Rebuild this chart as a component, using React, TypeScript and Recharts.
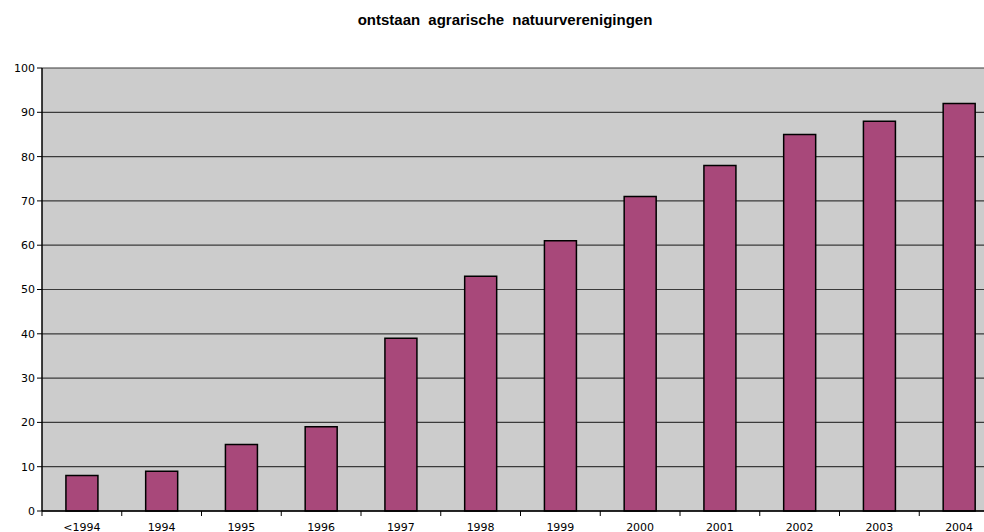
import React from "react";
import { BarChart, Bar, XAxis, YAxis, CartesianGrid } from "recharts";

const YEARS = ["<1994", "1994", "1995", "1996", "1997", "1998", "1999", "2000", "2001", "2002", "2003", "2004"];
const COUNTS = [8, 9, 15, 19, 39, 53, 61, 71, 78, 85, 88, 92];
const Y_TICKS = [0, 10, 20, 30, 40, 50, 60, 70, 80, 90, 100];

const BAR_COLOR = "#a8487a";
const PLOT_BG = "#cccccc";
const FONT = "'DejaVu Sans', Verdana, sans-serif";

const data = YEARS.map((year, i) => ({ year, count: COUNTS[i] }));

const BAND = 79.75;

// Excel style: tick marks sit between the categories, labels in the middle
function CategoryTick(props: any) {
  const { x, y, payload } = props;
  return (
    <g>
      <line x1={x - BAND / 2} y1={y - 8} x2={x - BAND / 2} y2={y - 3} stroke="#000" strokeWidth={1} />
      <text x={x} y={y + 12} textAnchor="middle" fontSize={11} fontFamily={FONT} fill="#000">
        {payload.value}
      </text>
    </g>
  );
}

export default function App() {
  return (
    <div style={{ position: "absolute", left: 0, top: 0, width: 984, height: 532, overflow: "hidden", background: "#fff" }}>
      <div
        style={{
          position: "absolute",
          left: 0,
          width: 1010,
          top: 11,
          textAlign: "center",
          fontFamily: "'Liberation Sans', Arial, sans-serif",
          fontWeight: "bold",
          fontSize: 15,
          wordSpacing: 4,
          color: "#000",
        }}
      >
        ontstaan agrarische natuurverenigingen
      </div>
      <BarChart
        width={1010}
        height={560}
        data={data}
        margin={{ top: 68, right: 11, bottom: 19, left: 0 }}
        barCategoryGap="30%"
      >
        <CartesianGrid vertical={false} fill={PLOT_BG} stroke="#3a3a3a" strokeWidth={1.2} fillOpacity={1} />
        <XAxis
          dataKey="year"
          tick={<CategoryTick />}
          tickLine={false}
          axisLine={{ stroke: "#000", strokeWidth: 1.5 }}
          interval={0}
          height={30}
        />
        <YAxis
          domain={[0, 100]}
          ticks={Y_TICKS}
          width={42}
          axisLine={{ stroke: "#000", strokeWidth: 1.5 }}
          tickLine={{ stroke: "#000" }}
          tickSize={5}
          tick={{ fontSize: 11, fontFamily: FONT, fill: "#000" }}
          interval={0}
        />
        <Bar dataKey="count" fill={BAR_COLOR} stroke="#000" strokeWidth={1.5} isAnimationActive={false} />
      </BarChart>
    </div>
  );
}
